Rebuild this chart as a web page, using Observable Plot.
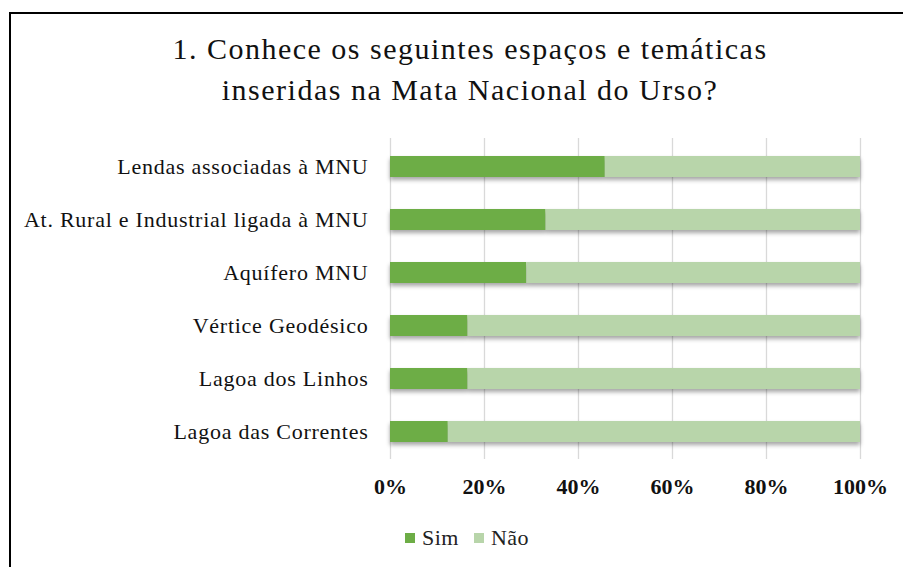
<!DOCTYPE html>
<html>
<head>
<meta charset="utf-8">
<script src="https://cdn.jsdelivr.net/npm/d3@7"></script>
<script src="https://cdn.jsdelivr.net/npm/@observablehq/plot@0.6"></script>
<style>
  html, body { margin: 0; padding: 0; background: #fff; }
  #wrap { position: relative; width: 903px; height: 567px; overflow: hidden; font-family: "Liberation Serif", "Times New Roman", serif; }
  #frameTop { position: absolute; left: 9px; top: 12px; width: 894px; height: 2px; background: #000; }
  #frameLeft { position: absolute; left: 9px; top: 12px; width: 2px; height: 555px; background: #000; }
  #title { position: absolute; left: 0; top: 28px; width: 940px; text-align: center; font-size: 30px; line-height: 41px; letter-spacing: 1.5px; color: #111; }
  #chart { position: absolute; left: 0; top: 120px; }
  #legend { position: absolute; left: 405px; top: 525px; font-size: 22px; letter-spacing: 0.5px; color: #222; display: flex; align-items: center; }
  .sw { display: inline-block; width: 10px; height: 10px; margin-right: 7px; }
  .item { display: flex; align-items: center; margin-right: 15px; }
</style>
</head>
<body>
<div id="wrap">
  <div id="frameTop"></div>
  <div id="frameLeft"></div>
  <div id="title">1. Conhece os seguintes espaços e temáticas<br>inseridas na Mata Nacional do Urso?</div>
  <div id="chart"></div>
  <div id="legend"></div>
</div>
<script>
const categories = [
  "Lendas associadas à MNU",
  "At. Rural e Industrial ligada à MNU",
  "Aquífero MNU",
  "Vértice Geodésico",
  "Lagoa dos Linhos",
  "Lagoa das Correntes"
];
const sim = [45.7, 33.1, 29.0, 16.5, 16.5, 12.3];
const nao = sim.map(v => 100 - v);
const seriesNames = ["Sim", "Não"];
const seriesColors = ["#6dad46", "#b8d5aa"];
const xTicks = [0, 20, 40, 60, 80, 100];

const rows = [];
categories.forEach((c, i) => {
  rows.push({cat: c, series: "Sim", value: sim[i]});
  rows.push({cat: c, series: "Não", value: nao[i]});
});

const chart = Plot.plot({
  width: 903,
  height: 390,
  marginTop: 18,
  marginBottom: 51,
  marginLeft: 390,
  marginRight: 43,
  style: {fontFamily: "'Liberation Serif', 'Times New Roman', serif", background: "transparent"},
  x: {domain: [0, 100], ticks: xTicks, tickFormat: d => d + "%", label: null},
  y: {domain: categories, label: null, paddingInner: 0.61, paddingOuter: 0.305},
  color: {domain: seriesNames, range: seriesColors},
  marks: [
    Plot.ruleX(xTicks, {stroke: "#d9d9d9", strokeWidth: 1.3}),
    Plot.barX(rows, Plot.stackX({y: "cat", x: "value", fill: "series", order: seriesNames})),
    Plot.axisX({ticks: xTicks, tickFormat: d => d + "%", tickSize: 0, tickPadding: 19, fontSize: 22, fontWeight: "bold", fill: "#111", label: null}),
    Plot.axisY({tickSize: 0, tickPadding: 22, fontSize: 22, fill: "#111", label: null})
  ]
});
d3.select(chart).selectAll("g[aria-label='bar']").style("filter", "drop-shadow(0px 3px 2px rgba(0,0,0,0.35))");
d3.select(chart).selectAll("g[aria-label='y-axis tick label'] text").style("letter-spacing", "0.75px");
document.getElementById("chart").appendChild(chart);

const legend = document.getElementById("legend");
seriesNames.forEach((s, i) => {
  const item = document.createElement("div");
  item.className = "item";
  const sw = document.createElement("span");
  sw.className = "sw";
  sw.style.background = seriesColors[i];
  item.appendChild(sw);
  item.appendChild(document.createTextNode(s));
  legend.appendChild(item);
});
</script>
</body>
</html>
